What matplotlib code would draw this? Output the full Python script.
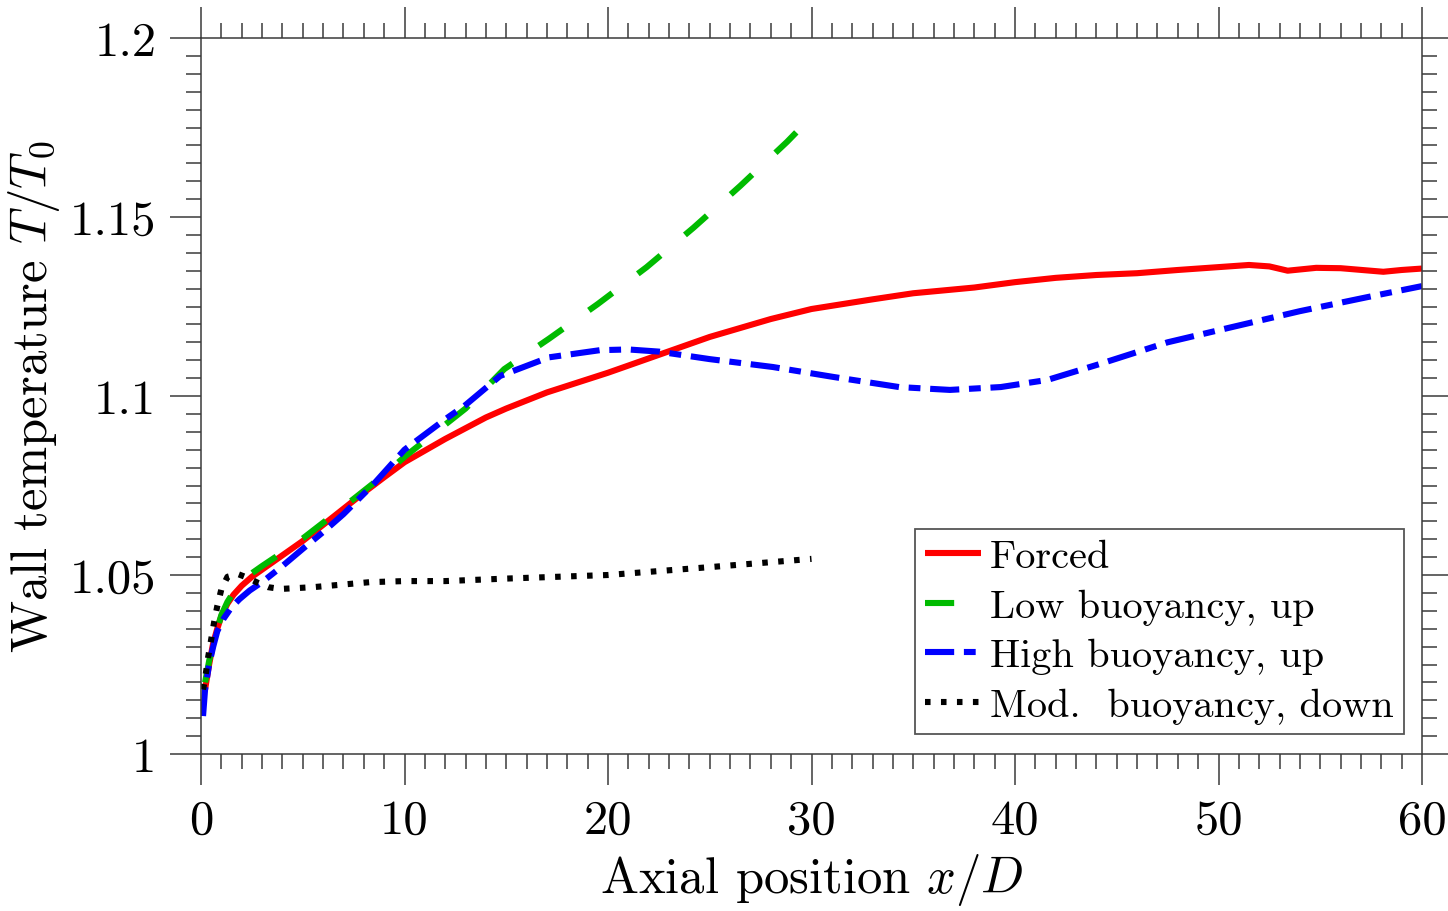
import matplotlib
matplotlib.use("Agg")
import matplotlib.pyplot as plt
from matplotlib.ticker import MultipleLocator, FixedLocator, FixedFormatter

plt.rcParams['font.family'] = ['cmr10', 'DejaVu Serif']
plt.rcParams['mathtext.fontset'] = 'cm'
plt.rcParams['axes.formatter.use_mathtext'] = True
plt.rcParams['lines.scale_dashes'] = False

# ---- data ----
forced_x = [0.2, 0.4, 0.6, 0.8, 1.0, 1.3, 1.6, 2.0, 2.5, 3.0, 4.0, 5.0, 6.0, 7.0, 8.0, 9.0,
            10.0, 12.0, 14.0, 15.0, 17.0, 20.0, 22.5, 25.0, 28.0, 30.0, 33.0, 35.0, 38.0,
            40.0, 42.0, 44.0, 46.0, 48.0, 50.0, 51.5, 52.5, 53.4, 54.8, 56.0, 58.1, 59.0,
            60.0]
forced_y = [1.018, 1.025, 1.031, 1.035, 1.0385, 1.042, 1.0445, 1.047, 1.0495, 1.0515,
            1.0555, 1.0595, 1.064, 1.0685, 1.073, 1.0773, 1.0815, 1.088, 1.094, 1.0965,
            1.101, 1.1065, 1.1115, 1.1165, 1.1215, 1.1243, 1.127, 1.1287, 1.1303, 1.1318,
            1.1330, 1.1338, 1.1343, 1.1352, 1.1360, 1.1366, 1.1362, 1.1350, 1.1358, 1.1357,
            1.1347, 1.1352, 1.1356]

low_x = [0.2, 0.4, 0.6, 0.8, 1.0, 1.3, 1.6, 2.0, 2.5, 3.0, 4.0, 5.0, 7.0, 9.0, 10.0, 12.0,
         13.0, 14.9, 17.1, 19.5, 21.9, 24.2, 26.5, 28.8, 29.4]
low_y = [1.020, 1.026, 1.031, 1.035, 1.0388, 1.0425, 1.0452, 1.048, 1.0505, 1.0525, 1.0563,
         1.0602, 1.069, 1.078, 1.083, 1.092, 1.0965, 1.1075, 1.116, 1.1257, 1.136, 1.147,
         1.1587, 1.171, 1.1745]

high_x = [0.1, 0.2, 0.4, 0.6, 0.8, 1.1, 1.5, 1.9, 2.4, 3.0, 4.0, 5.0, 6.0, 7.0, 8.5, 10.0,
          12.0, 13.0, 14.7, 17.1, 19.6, 21.0, 22.5, 25.0, 28.1, 31.1, 34.3, 36.8, 39.3,
          41.6, 44.2, 47.5, 50.7, 54.0, 57.3, 60.0]
high_y = [1.0106, 1.018, 1.025, 1.030, 1.0343, 1.0377, 1.041, 1.0433, 1.0457, 1.048,
          1.0525, 1.0573, 1.062, 1.067, 1.0755, 1.085, 1.0935, 1.0975, 1.1056, 1.1108,
          1.1128, 1.1130, 1.1124, 1.1103, 1.1081, 1.1053, 1.1025, 1.1017, 1.1025, 1.1045,
          1.109, 1.115, 1.1193, 1.1237, 1.1276, 1.1307]

down_x = [0.1, 0.2, 0.35, 0.5, 0.65, 0.8, 1.0, 1.3, 1.8, 2.3, 2.8, 3.3, 3.9, 5.5, 8.3,
          10.0, 12.0, 15.0, 20.0, 25.0, 30.0]
down_y = [1.018, 1.021, 1.027, 1.032, 1.037, 1.0413, 1.046, 1.0495, 1.0503, 1.0492,
          1.0478, 1.0466, 1.0461, 1.0466, 1.048, 1.0483, 1.0483, 1.049, 1.050, 1.0522,
          1.0545]

series_labels = ["Forced", "Low buoyancy, up", "High buoyancy, up", "Mod.  buoyancy, down"]

x_major = [0, 10, 20, 30, 40, 50, 60]
x_labels = ["0", "10", "20", "30", "40", "50", "60"]
y_major = [1.0, 1.05, 1.1, 1.15, 1.2]
y_labels = ["1", "1.05", "1.1", "1.15", "1.2"]

# ---- figure ----
W, H = 1448, 912
fig = plt.figure(figsize=(W / 100, H / 100), dpi=100)
L, R, T, B = 201, 1422, 39, 755
ax = fig.add_axes([L / W, (H - B) / H, (R - L) / W, (B - T) / H])

lw = 4.4
ax.plot(forced_x, forced_y, color='#ff0000', lw=lw, solid_capstyle='butt',
        solid_joinstyle='round', label=series_labels[0])
ax.plot(low_x, low_y, color='#00bb00', lw=lw, dashes=(21, 23),
        label=series_labels[1])
ax.plot(high_x, high_y, color='#0000ff', lw=lw, dashes=(21, 7, 8.5, 7),
        label=series_labels[2])
ax.plot(down_x, down_y, color='black', lw=lw, dashes=(4.0, 7.5),
        label=series_labels[3])

ax.set_xlim(0, 60)
ax.set_ylim(1.0, 1.2)

ax.xaxis.set_major_locator(FixedLocator(x_major))
ax.xaxis.set_major_formatter(FixedFormatter(x_labels))
ax.xaxis.set_minor_locator(MultipleLocator(1))
ax.yaxis.set_major_locator(FixedLocator(y_major))
ax.yaxis.set_major_formatter(FixedFormatter(y_labels))
ax.yaxis.set_minor_locator(MultipleLocator(0.005))

tick_col = '#3a3a3a'
ax.tick_params(which='both', direction='out', top=True, right=True,
               color=tick_col, width=1.1)
ax.tick_params(which='major', length=22, labelsize=35, pad=10)
ax.tick_params(which='minor', length=11)
for s in ax.spines.values():
    s.set_color(tick_col)
    s.set_linewidth(1.1)

ax.set_xlabel("Axial position $x/D$", fontsize=36.5, labelpad=6)
ax.set_ylabel("Wall temperature $T/T_0$", fontsize=36.5, labelpad=6)

leg = ax.legend(loc='lower right', bbox_to_anchor=(0.985, 0.028), fontsize=29,
                handlelength=1.38, handletextpad=0.22, borderpad=0.25,
                labelspacing=0.33, borderaxespad=0, fancybox=False,
                framealpha=1, edgecolor='#555555')
leg.get_frame().set_linewidth(1.3)

fig.savefig("out.png", dpi=100)
